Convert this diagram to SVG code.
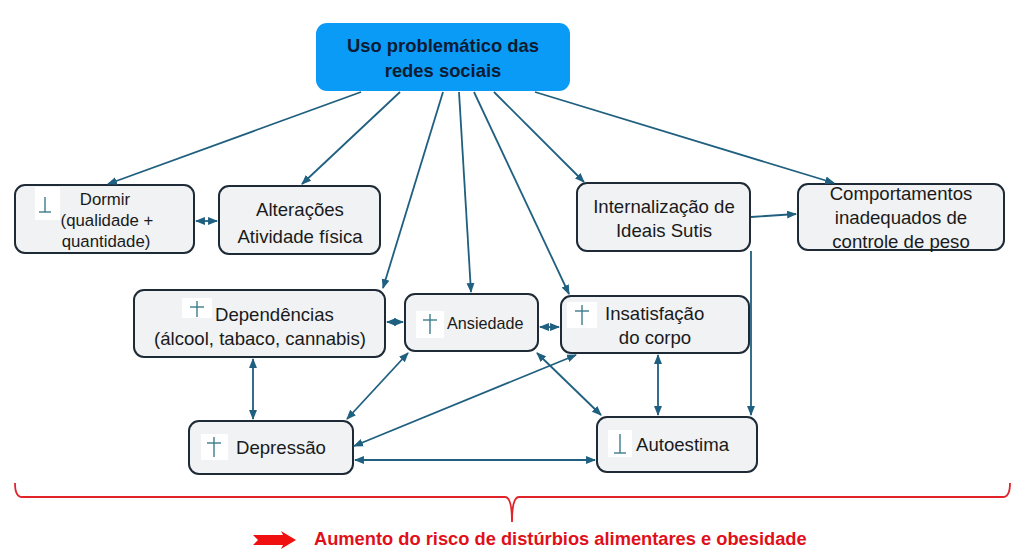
<svg xmlns="http://www.w3.org/2000/svg" width="1024" height="560" viewBox="0 0 1024 560">
<defs>
<marker id="ah" viewBox="0 0 10 10" refX="9" refY="5" markerWidth="5.5" markerHeight="5.5" orient="auto-start-reverse"><path d="M0,1 L10,5 L0,9 z" fill="#1F5F7F"/></marker>
<style>
.node rect.box{fill:#F0F2F4;stroke:#1E2B36;stroke-width:2}
.t{font-family:"Liberation Sans",Arial,sans-serif;font-size:18.6px;fill:#1a1a1a;text-anchor:middle}
.ts{font-size:16.8px}
.st{text-anchor:start}
.c line{stroke:#1F5F7F;stroke-width:1.8;fill:none}
.ic{fill:#ffffff}
.g{stroke:#3C7C8C;stroke-width:1.4}
</style>
</defs>
<rect width="1024" height="560" fill="#ffffff"/>

<g id="n-top">
<rect x="316" y="23" width="254" height="68" rx="11" fill="#0A9BF7"/>
<text class="t" x="443" y="52" style="font-weight:bold;font-size:18.4px;fill:#0D1B33">Uso problemático das</text>
<text class="t" x="443" y="77" style="font-weight:bold;font-size:18.4px;fill:#0D1B33">redes sociais</text>
</g>

<g id="n-dormir" class="node">
<rect class="box" x="15" y="185" width="179" height="68" rx="10"/>
<rect class="ic" x="35" y="187" width="25" height="33"/>
<line class="g" x1="45" y1="197" x2="45" y2="212"/><line class="g" x1="39" y1="212" x2="51" y2="212"/>
<text class="t ts" x="105" y="205">Dormir</text>
<text class="t ts" x="107" y="226">(qualidade +</text>
<text class="t ts" x="106" y="247">quantidade)</text>
</g>

<g id="n-alteracoes" class="node">
<rect class="box" x="219" y="186" width="161" height="68" rx="10"/>
<text class="t" x="300" y="216">Alterações</text>
<text class="t" x="300" y="243">Atividade física</text>
</g>

<g id="n-internalizacao" class="node">
<rect class="box" x="577" y="183" width="173" height="68" rx="10"/>
<text class="t" x="664" y="213">Internalização de</text>
<text class="t" x="664" y="237">Ideais Sutis</text>
</g>

<g id="n-comportamentos" class="node">
<rect class="box" x="798" y="184" width="206" height="66" rx="10"/>
<text class="t" x="901" y="200">Comportamentos</text>
<text class="t" x="901" y="224">inadequados de</text>
<text class="t" x="901" y="248">controle de peso</text>
</g>

<g id="n-dependencias" class="node">
<rect class="box" x="134" y="290" width="251" height="67" rx="10"/>
<rect class="ic" x="182" y="298" width="30" height="20"/>
<line class="g" x1="197" y1="301" x2="197" y2="317"/><line class="g" x1="190" y1="307" x2="204" y2="307"/>
<text class="t st" x="215" y="321">Dependências</text>
<text class="t" x="260" y="345">(álcool, tabaco, cannabis)</text>
</g>

<g id="n-ansiedade" class="node">
<rect class="box" x="405" y="294" width="133" height="57" rx="10"/>
<rect class="ic" x="416" y="311" width="28" height="27"/>
<line class="g" x1="430" y1="314" x2="430" y2="334"/><line class="g" x1="423" y1="320" x2="437" y2="320"/>
<text class="t st" x="447" y="329" style="font-size:16.2px">Ansiedade</text>
</g>

<g id="n-insatisfacao" class="node">
<rect class="box" x="561" y="296" width="188" height="57" rx="10"/>
<rect class="ic" x="567" y="302" width="30" height="26"/>
<line class="g" x1="582" y1="305" x2="582" y2="325"/><line class="g" x1="575" y1="311" x2="589" y2="311"/>
<text class="t st" x="605" y="320">Insatisfação</text>
<text class="t" x="655" y="344">do corpo</text>
</g>

<g id="n-depressao" class="node">
<rect class="box" x="189" y="421" width="164" height="53" rx="10"/>
<rect class="ic" x="201" y="434" width="27" height="26"/>
<line class="g" x1="214" y1="437" x2="214" y2="457"/><line class="g" x1="207" y1="443" x2="221" y2="443"/>
<text class="t st" x="236" y="454">Depressão</text>
</g>

<g id="n-autoestima" class="node">
<rect class="box" x="597" y="417" width="160" height="55" rx="10"/>
<rect class="ic" x="608" y="430" width="24" height="27"/>
<line class="g" x1="620" y1="434" x2="620" y2="453"/><line class="g" x1="614" y1="453" x2="626" y2="453"/>
<text class="t st" x="636" y="451">Autoestima</text>
</g>

<g id="connectors" class="c">
<line x1="361" y1="92" x2="108" y2="184" marker-end="url(#ah)"/>
<line x1="400" y1="92" x2="302" y2="184" marker-end="url(#ah)"/>
<line x1="443" y1="92" x2="383" y2="288" marker-end="url(#ah)"/>
<line x1="459" y1="92" x2="471" y2="292" marker-end="url(#ah)"/>
<line x1="474" y1="92" x2="569" y2="294" marker-end="url(#ah)"/>
<line x1="494" y1="92" x2="584" y2="182" marker-end="url(#ah)"/>
<line x1="535" y1="92" x2="834" y2="183" marker-end="url(#ah)"/>
<line x1="196" y1="221" x2="217" y2="221" marker-start="url(#ah)" marker-end="url(#ah)"/>
<line x1="751" y1="217" x2="796" y2="214" marker-end="url(#ah)"/>
<line x1="751" y1="251" x2="751" y2="415" marker-end="url(#ah)"/>
<line x1="387" y1="322" x2="403" y2="322" marker-start="url(#ah)" marker-end="url(#ah)"/>
<line x1="540" y1="327" x2="559" y2="327" marker-start="url(#ah)" marker-end="url(#ah)"/>
<line x1="253" y1="359" x2="253" y2="419" marker-start="url(#ah)" marker-end="url(#ah)"/>
<line x1="408" y1="353" x2="347" y2="419" marker-start="url(#ah)" marker-end="url(#ah)"/>
<line x1="576" y1="355" x2="354" y2="446" marker-start="url(#ah)" marker-end="url(#ah)"/>
<line x1="537" y1="353" x2="601" y2="415" marker-start="url(#ah)" marker-end="url(#ah)"/>
<line x1="658" y1="355" x2="658" y2="415" marker-start="url(#ah)" marker-end="url(#ah)"/>
<line x1="355" y1="460" x2="595" y2="460" marker-start="url(#ah)" marker-end="url(#ah)"/>
</g>

<g id="bracket">
<path d="M15,483 Q15,497 22,497 L505,497 Q512,497 512,522 Q512,497 519,497 L1003,497 Q1010,497 1010,483" fill="none" stroke="#E0242A" stroke-width="1.8"/>
</g>

<g id="result">
<path d="M253,535 L283,535 L281,531 L296,540 L281,549 L283,545 L253,545 L258,540 z" fill="#F01010"/>
<text x="314" y="545" style="font-family:'Liberation Sans',Arial,sans-serif;font-size:18.3px;font-weight:bold;fill:#E0101A">Aumento do risco de distúrbios alimentares e obesidade</text>
</g>
</svg>
